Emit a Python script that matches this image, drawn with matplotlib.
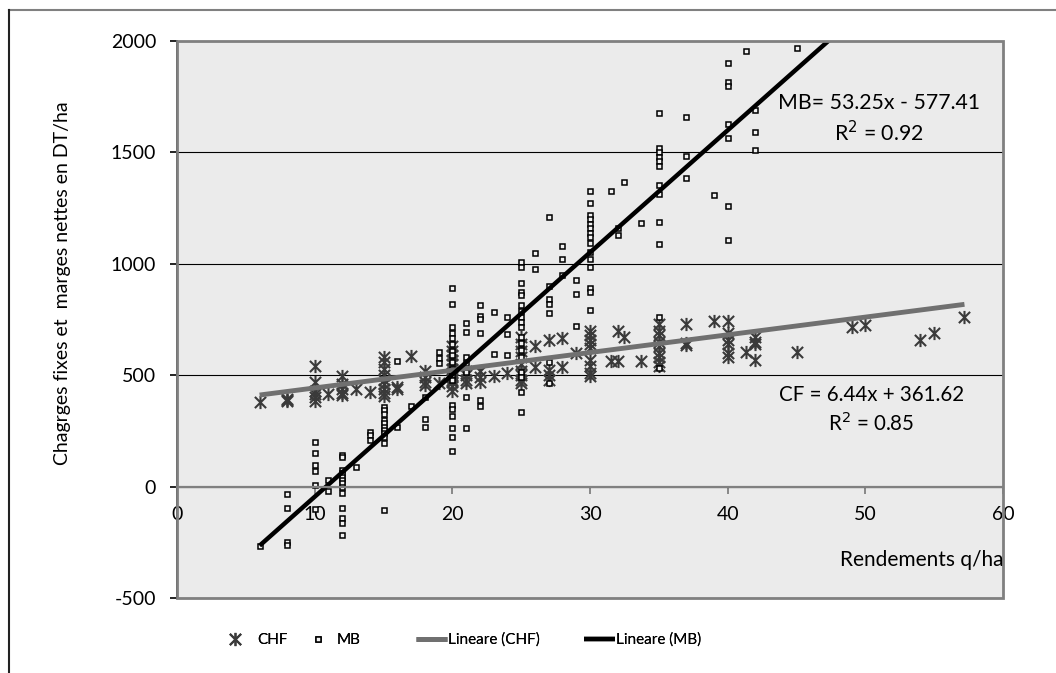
import numpy as np
import matplotlib
matplotlib.use('Agg')
import matplotlib.pyplot as plt
from matplotlib.path import Path
from matplotlib.lines import Line2D
from matplotlib.patches import Rectangle

plt.rcParams['font.family'] = ['Lato', 'DejaVu Sans']
plt.rcParams['axes.unicode_minus'] = False

# fixed charges (CHF) per yield class
chf_x = [6,
         8, 8, 8,
         10, 10, 10, 10, 10, 10,
         11,
         12, 12, 12, 12, 12,
         13,
         14,
         15, 15, 15, 15, 15, 15, 15, 15, 15,
         16, 16,
         17,
         18, 18, 18, 18,
         19,
         20, 20, 20, 20, 20, 20, 20, 20, 20, 20, 20, 20, 20,
         21, 21, 21, 21,
         22, 22, 22,
         23,
         24,
         25, 25, 25, 25, 25, 25, 25, 25, 25,
         26, 26,
         27, 27, 27, 27,
         28, 28,
         29,
         30, 30, 30, 30, 30, 30, 30, 30, 30,
         31.5,
         32, 32,
         32.5,
         33.7,
         35, 35, 35, 35, 35, 35, 35, 35, 35,
         37, 37, 37,
         39,
         40, 40, 40, 40, 40, 40,
         41.3,
         42, 42, 42, 42,
         45, 49, 50, 54, 55, 57.2]
chf_y = [378,
         385, 390, 395,
         543, 470, 430, 415, 400, 385,
         415,
         495, 460, 440, 420, 410,
         437,
         426,
         580, 560, 530, 500, 480, 460, 440, 420, 405,
         448, 440,
         586,
         520, 490, 470, 455,
         464,
         630, 610, 590, 570, 550, 530, 510, 500, 490, 480, 470, 450, 430,
         520, 500, 480, 465,
         520, 490, 470,
         496,
         508,
         670, 640, 610, 580, 550, 520, 500, 480, 465,
         631, 538,
         658, 523, 500, 478,
         666, 538,
         598,
         700, 680, 660, 640, 620, 570, 540, 510, 495,
         565,
         700, 565,
         670,
         565,
         730, 700, 680, 650, 630, 600, 580, 560, 540,
         728, 646, 636,
         745,
         745, 690, 660, 640, 600, 580,
         603,
         670, 650, 640, 568,
         604, 715, 725, 658, 688, 760]

# net margins (MB)
mb_x = [6,
        8, 8, 8, 8,
        10, 10, 10, 10, 10, 10,
        11, 11,
        12, 12, 12, 12, 12, 12, 12, 12, 12, 12, 12, 12, 12,
        13,
        14, 14, 14,
        15, 15, 15, 15, 15, 15, 15, 15, 15, 15, 15,
        16, 16,
        17,
        18, 18, 18,
        19, 19, 19,
        20, 20, 20, 20, 20, 20, 20, 20, 20, 20, 20, 20, 20, 20, 20, 20, 20, 20,
        21, 21, 21, 21, 21, 21, 21,
        22, 22, 22, 22, 22, 22,
        23, 23,
        24, 24, 24,
        25, 25, 25, 25, 25, 25, 25, 25, 25, 25, 25, 25, 25, 25, 25, 25, 25, 25,
        26, 26,
        27, 27, 27, 27, 27, 27, 27,
        28, 28, 28,
        29, 29, 29,
        30, 30, 30, 30, 30, 30, 30, 30, 30, 30, 30, 30, 30, 30, 30,
        31.5,
        32, 32,
        32.5,
        33.7,
        35, 35, 35, 35, 35, 35, 35, 35, 35, 35, 35, 35,
        37, 37, 37,
        39,
        40, 40, 40, 40, 40, 40, 40,
        41.3,
        42, 42, 42,
        45]
mb_y = [-265,
        -250, -262, -95, -35,
        200, 150, 95, 70, 5, -100,
        30, -20,
        142, 131, 74, 60, 44, 30, 15, 0, -30, -97, -142, -165, -217,
        89,
        245, 230, 210,
        359, 344, 326, 299, 284, 269, 254, 239, 224, 194, -105,
        565, 266,
        360,
        302, 269, 404,
        605, 576, 553,
        893, 821, 715, 690, 665, 640, 610, 590, 560, 530, 500, 478, 366, 347, 318, 265, 221, 161,
        733, 693, 583, 553, 516, 404, 262,
        815, 767, 754, 691, 389, 362,
        782, 595,
        763, 685, 591,
        1009, 987, 915, 875, 859, 815, 787, 763, 740, 718, 673, 643, 613, 583, 516, 493, 426, 333,
        1047, 977,
        1209, 902, 841, 820, 778, 561, 464,
        1081, 1020, 950,
        927, 864, 722,
        1327, 1272, 1218, 1200, 1180, 1160, 1140, 1120, 1092, 1054, 1020, 987, 891, 875, 793,
        1327,
        1162, 1129,
        1365,
        1185,
        1677, 1518, 1500, 1480, 1460, 1440, 1354, 1312, 1188, 1087, 760, 531,
        1657, 1485, 1384,
        1310,
        1900, 1817, 1798, 1626, 1563, 1258, 1107,
        1955,
        1690, 1592, 1511,
        1970]

# trendlines as drawn (end points)
chf_trend_x = [6, 57.2]
chf_trend_y = [411, 818]
mb_trend_x = [6, 47.4]
mb_trend_y = [-265, 2005]

chf_eq = ['CF = 6.44x + 361.62', 'R$^2$ = 0.85']
mb_eq = ['MB= 53.25x - 577.41', 'R$^2$ = 0.92']

x_ticks = [0, 10, 20, 30, 40, 50, 60]
y_ticks = [-500, 0, 500, 1000, 1500, 2000]

W, H = 1056, 673
fig = plt.figure(figsize=(W / 100, H / 100), dpi=100)
ax = fig.add_axes([177 / W, 75 / H, 826 / W, 557 / H])
ax.set_facecolor('#ebebeb')

# Excel-like star marker: an X with a vertical bar
star = Path([(0, -1), (0, 1), (-0.85, -0.85), (0.85, 0.85), (-0.85, 0.85), (0.85, -0.85)],
            [Path.MOVETO, Path.LINETO] * 3)

h_chf, = ax.plot(chf_x, chf_y, ls='none', marker=star, ms=9.5, mec='#3a3a3a', mew=1.5, label='CHF')
h_mb, = ax.plot(mb_x, mb_y, ls='none', marker='s', ms=3.6, mfc='#f2f2f2', mec='black', mew=1.1, label='MB')
h_tc, = ax.plot(chf_trend_x, chf_trend_y, color='#707070', lw=3.5, solid_capstyle='butt',
                label='Lineare (CHF)')
h_tm, = ax.plot(mb_trend_x, mb_trend_y, color='black', lw=3.2, solid_capstyle='butt',
                label='Lineare (MB)')

ax.set_xlim(0, 60)
ax.set_ylim(-500, 2000)
ax.set_xticks(x_ticks)
ax.set_yticks(y_ticks)
ax.yaxis.grid(True, color='black', lw=0.8)
ax.set_axisbelow(True)

ax.spines['top'].set_visible(False)
ax.spines['right'].set_visible(False)
ax.spines['bottom'].set_position(('data', 0))
ax.spines['bottom'].set_color('#808080')
ax.spines['bottom'].set_linewidth(1.6)
ax.spines['left'].set_color('black')
ax.spines['left'].set_linewidth(1.3)
ax.add_patch(Rectangle((0, 0), 1, 1, transform=ax.transAxes, fill=False,
                       ec='#808080', lw=2, clip_on=False, zorder=5))

ax.tick_params(axis='x', direction='out', length=5, width=1.3, color='#808080',
               labelsize=14, pad=9)
ax.tick_params(axis='y', direction='out', length=5, width=1.2, color='black',
               labelsize=14, pad=10)

# regression equations
ax.text(51.0, 1723, mb_eq[0], ha='center', va='center', fontsize=15.3)
ax.text(51.0, 1587, mb_eq[1], ha='center', va='center', fontsize=15.3)
ax.text(50.45, 411, chf_eq[0], ha='center', va='center', fontsize=14.8)
ax.text(50.45, 285, chf_eq[1], ha='center', va='center', fontsize=14.8)

fig.text(1004 / W, 1 - 560 / H, 'Rendements q/ha', ha='right', va='center', fontsize=15)
fig.text(63 / W, 1 - 283 / H, 'Chagrges fixes et  marges nettes en DT/ha', rotation=90,
         ha='center', va='center', fontsize=14)

# legend entries placed one by one along the bottom, as in the original
leg_font = {'size': 11}
legend_items = [(h_chf, 'CHF', 227, 1.0, 1.0),
                (h_mb, 'MB', 310, 1.0, 0.74),
                (h_tc, 'Lineare (CHF)', 416, 2.03, 0.05),
                (h_tm, 'Lineare (MB)', 584, 2.03, 0.05)]
for handle, text, x0, hl, pad in legend_items:
    lg = fig.legend([handle], [text], loc='center left', bbox_to_anchor=(x0 / W, 1 - 640 / H),
                    frameon=False, prop=leg_font, handlelength=hl, handletextpad=pad,
                    borderpad=0, borderaxespad=0)
    fig.add_artist(lg)

# outer chart border
fig.add_artist(Line2D([9 / W, 1], [1 - 10 / H, 1 - 10 / H], transform=fig.transFigure,
                      color='#808080', lw=1.5))
fig.add_artist(Line2D([9 / W, 9 / W], [0, 1 - 10 / H], transform=fig.transFigure,
                      color='#222222', lw=1.5))

fig.savefig('out.png', dpi=100)
